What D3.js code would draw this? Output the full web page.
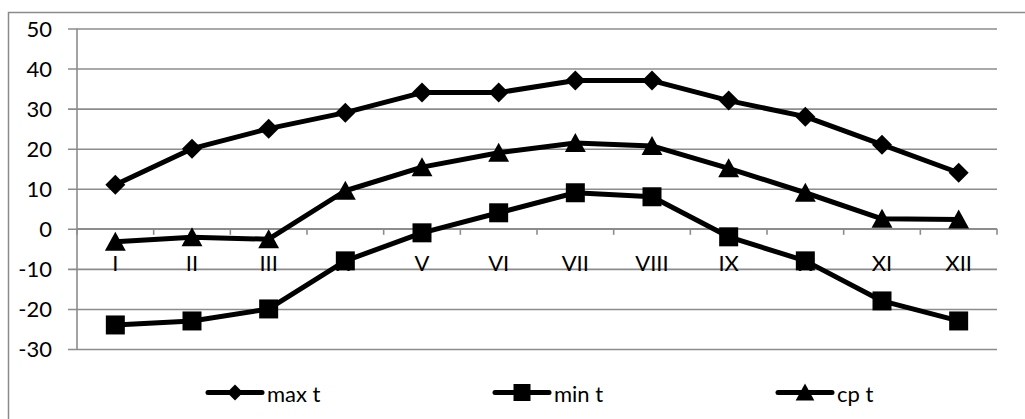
<!DOCTYPE html>
<html>
<head>
<meta charset="utf-8">
<script src="https://cdn.jsdelivr.net/npm/d3@7/dist/d3.min.js"></script>
<style>
  html, body { margin: 0; padding: 0; background: #fff; }
  svg { display: block; }
  text { font-family: Lato, "Open Sans", sans-serif; fill: #000; }
</style>
</head>
<body>
<svg id="chart" width="1025" height="419"></svg>
<script>
// Months (Roman numerals) and monthly temperatures
const months = ["I", "II", "III", "IV", "V", "VI", "VII", "VIII", "IX", "X", "XI", "XII"];
const maxT = [11, 20, 25, 29, 34, 34, 37, 37, 32, 28, 21, 14];
const minT = [-24, -23, -20, -8, -1, 4, 9, 8, -2, -8, -18, -23];
const cpT  = [-3.2, -2.1, -2.6, 9.5, 15.4, 19, 21.4, 20.7, 15.1, 9, 2.5, 2.3];
const seriesNames = ["max t", "min t", "cp t"];
const yTicks = [-30, -20, -10, 0, 10, 20, 30, 40, 50];

const series = [
  { name: seriesNames[0], values: maxT, marker: "diamond" },
  { name: seriesNames[1], values: minT, marker: "square" },
  { name: seriesNames[2], values: cpT,  marker: "triangle" }
];

const svg = d3.select("#chart");
const plot = { left: 77, right: 997, top: 28.5, bottom: 349 };

const x = d3.scaleBand().domain(months).range([plot.left, plot.right]).padding(0);
const xc = d => x(d) + x.bandwidth() / 2;
const y = d3.scaleLinear().domain([-30, 50]).range([plot.bottom, plot.top]);

// outer chart frame
svg.append("rect")
  .attr("x", 8.5).attr("y", 12.5)
  .attr("width", 1100).attr("height", 500)
  .attr("fill", "none").attr("stroke", "#8a8a8a").attr("stroke-width", 1.5);

// horizontal gridlines with left tick stubs and labels
const yAxis = d3.axisLeft(y).tickValues(yTicks)
  .tickSize(-(plot.right - plot.left) - 9).tickFormat(d => String(d));
const gy = svg.append("g")
  .attr("transform", `translate(${plot.right},0)`)
  .call(yAxis);
gy.select(".domain").remove();
gy.selectAll(".tick line")
  .attr("x1", -(plot.right - plot.left) - 9).attr("x2", 0)
  .attr("stroke", "#8c8c8c").attr("stroke-width", 1.6);
gy.selectAll(".tick text")
  .attr("x", -(plot.right - plot.left) - 25)
  .attr("dy", "0.35em")
  .style("font-size", "22px").attr("fill", "#000");

// vertical value axis line
svg.append("line")
  .attr("x1", plot.left).attr("x2", plot.left)
  .attr("y1", plot.top).attr("y2", plot.bottom)
  .attr("stroke", "#8c8c8c").attr("stroke-width", 1.6);

// category axis on the zero line
const gx = svg.append("g").attr("transform", `translate(0,${y(0)})`);
gx.append("line")
  .attr("x1", plot.left).attr("x2", plot.right)
  .attr("stroke", "#8c8c8c").attr("stroke-width", 1.6);
const bounds = months.map(m => x(m)).concat([plot.right]);
gx.selectAll("line.tk").data(bounds).join("line")
  .attr("class", "tk")
  .attr("x1", d => d).attr("x2", d => d)
  .attr("y1", 0).attr("y2", 6)
  .attr("stroke", "#8c8c8c").attr("stroke-width", 1.6);
gx.selectAll("text").data(months).join("text")
  .attr("x", d => xc(d)).attr("y", 42)
  .attr("text-anchor", "middle")
  .style("font-size", "22px")
  .text(d => d);

// marker shapes
function markerPath(type, s) {
  if (type === "diamond") {
    return `M0,${-s}L${s},0L0,${s}L${-s},0Z`;
  }
  if (type === "square") {
    return `M${-s},${-s}H${s}V${s}H${-s}Z`;
  }
  // triangle
  return `M0,${-s * 1.05}L${s * 1.1},${s * 0.95}L${-s * 1.1},${s * 0.95}Z`;
}
const markerSize = { diamond: 10, square: 9.5, triangle: 9.5 };

const line = d3.line().x((d, i) => xc(months[i])).y(d => y(d));

series.forEach(s => {
  const g = svg.append("g");
  g.append("path")
    .attr("d", line(s.values))
    .attr("fill", "none").attr("stroke", "#000")
    .attr("stroke-width", 5).attr("stroke-linejoin", "round");
  g.selectAll("path.mk").data(s.values).join("path")
    .attr("class", "mk")
    .attr("transform", (d, i) => `translate(${xc(months[i])},${y(d)})`)
    .attr("d", markerPath(s.marker, markerSize[s.marker]))
    .attr("fill", "#000");
});

// legend
const legendX = [208, 495, 778];
const legendY = 392.5;
series.forEach((s, i) => {
  const g = svg.append("g").attr("transform", `translate(${legendX[i]},${legendY})`);
  g.append("line").attr("x1", 0).attr("x2", 54)
    .attr("stroke", "#000").attr("stroke-width", 5).attr("stroke-linecap", "round");
  g.append("path")
    .attr("transform", "translate(27,0)")
    .attr("d", markerPath(s.marker, s.marker === "diamond" ? 8 : 8.5))
    .attr("fill", "#000");
  g.append("text").attr("x", 59).attr("y", 9)
    .style("font-size", "22px")
    .text(s.name);
});
</script>
</body>
</html>
